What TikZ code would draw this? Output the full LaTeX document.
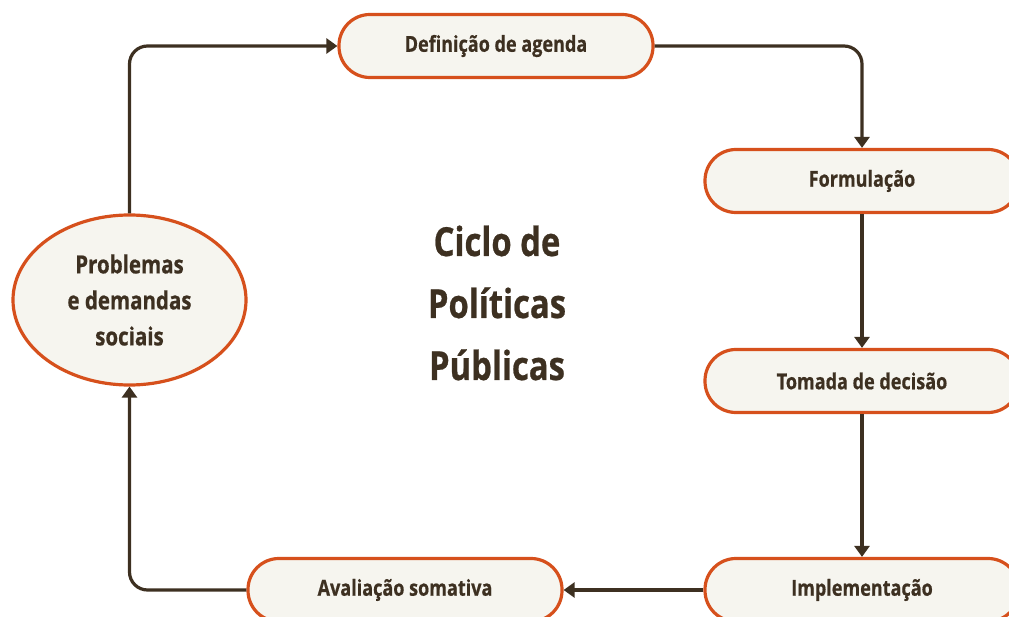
\documentclass[tikz,border=0pt]{standalone}
\usepackage{fontspec}
\usepackage{tikz}
\usetikzlibrary{arrows.meta,shapes.geometric}
\newfontfamily\condfont{Open Sans}[FakeStretch=0.82,BoldFeatures={FakeBold=0.6}]
\definecolor{rim}{HTML}{D6501C}
\definecolor{paper}{HTML}{F6F5EF}
\definecolor{ink}{HTML}{3D3021}

\begin{document}
\begin{tikzpicture}[x=1pt,y=-1pt,->,>={Triangle[length=11pt,width=15pt]},line width=3.2pt,
	stage node/.style={rectangle,rounded corners=31pt,draw=rim,fill=paper,line width=3.2pt,
		minimum width=314pt,minimum height=63pt,text=ink,font=\condfont\bfseries\fontsize{22}{26}\selectfont},
	start node/.style={ellipse,draw=rim,fill=paper,line width=3.2pt,minimum width=233pt,minimum height=170pt,
		align=center,text=ink,font=\condfont\bfseries\fontsize{25}{36}\selectfont}]

	\useasboundingbox (0,0) rectangle (1009,617);

	\foreach \place/\name/\label in {{(496,46)/agenda/Definição de agenda}, {(862,181)/form/Formulação},
		{(862,381)/decisao/Tomada de decisão}, {(862,590)/impl/Implementação}, {(405,590)/aval/Avaliação somativa}}
		\node[stage node] (\name) at \place {\label};

	\node[start node] (prob) at (129.5,300) {Problemas\\e demandas\\sociais};

	\node[text=ink,align=center,font=\condfont\bfseries\fontsize{40}{62}\selectfont] (titulo) at (497,303)
		{Ciclo de\\Políticas\\Públicas};

	\draw[ink,rounded corners=18pt] (prob.north) |- (agenda.west);
	\draw[ink,rounded corners=18pt] (agenda.east) -| (form.north);
	\foreach \source/\dest in {form/decisao, decisao/impl}
		\draw[ink] (\source) -- (\dest);
	\draw[ink] (impl.west) -- (aval.east);
	\draw[ink,rounded corners=18pt] (aval.west) -| (prob.south);
\end{tikzpicture}
\end{document}
